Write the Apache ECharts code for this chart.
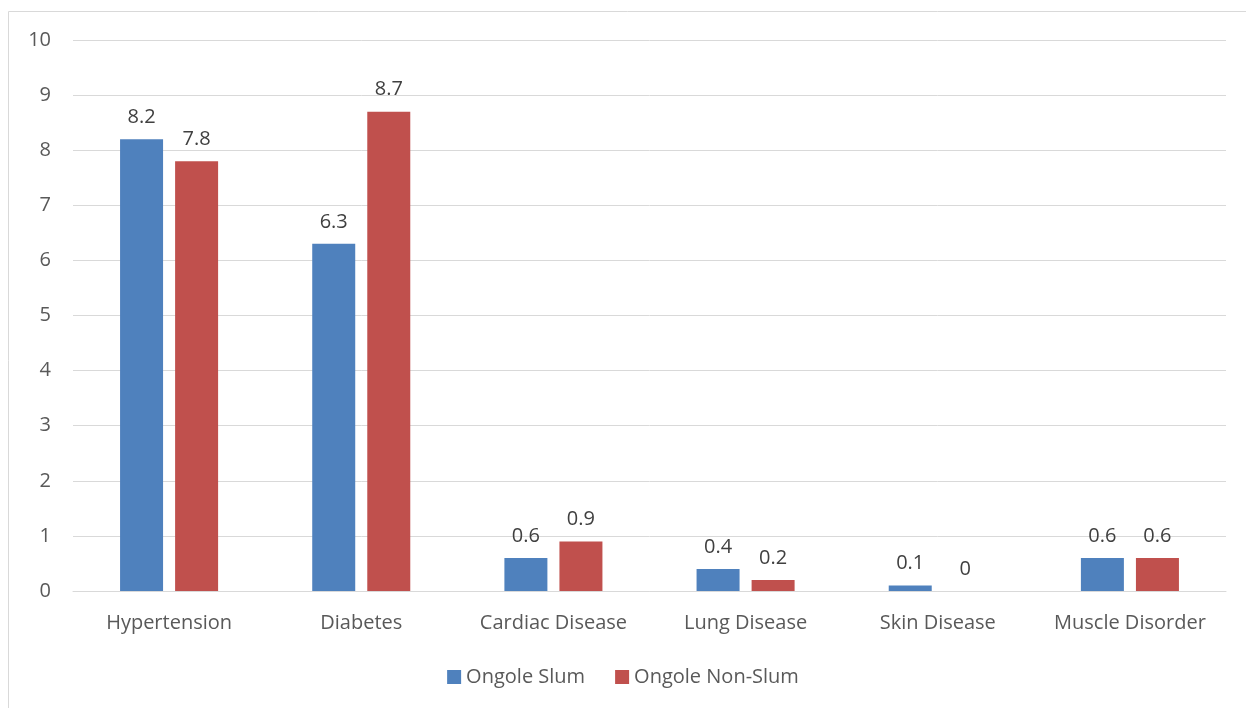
<!DOCTYPE html>
<html><head><meta charset="utf-8">
<script src="https://cdn.jsdelivr.net/npm/echarts@6/dist/echarts.min.js"></script>
<style>html,body{margin:0;padding:0;background:#fff}#c{width:1246px;height:708px}</style>
</head><body><div id="c"></div>
<script>
const categories = ['Hypertension','Diabetes','Cardiac Disease','Lung Disease','Skin Disease','Muscle Disorder'];
const slum = [8.2, 6.3, 0.6, 0.4, 0.1, 0.6];
const nonSlum = [7.8, 8.7, 0.9, 0.2, 0, 0.6];
const seriesNames = ['Ongole Slum','Ongole Non-Slum'];
const FONT = '"Open Sans", "Liberation Sans", sans-serif';
const FS = 20;
const chart = echarts.init(document.getElementById('c'), null, {renderer:'canvas'});
const lbl = {show:true, position:'top', distance:12, color:'#404040', fontSize:FS, fontFamily:FONT};
chart.setOption({
  animation:false,
  graphic:[{type:'rect', shape:{x:8.5,y:11.5,width:1260,height:720}, style:{fill:'none', stroke:'#d9d9d9', lineWidth:1}, silent:true}],
  grid:{left:73, right:20, top:40, bottom:117, containLabel:false},
  legend:{bottom:16, left:'center', itemWidth:14, itemHeight:14, itemGap:30, icon:'rect',
    textStyle:{color:'#595959', fontSize:FS, fontFamily:FONT}, data:seriesNames},
  xAxis:{type:'category', data:categories, axisTick:{show:false},
    axisLine:{lineStyle:{color:'#d9d9d9', width:1}},
    axisLabel:{color:'#595959', fontSize:FS, fontFamily:FONT, margin:22, interval:0, hideOverlap:false}},
  yAxis:{type:'value', min:0, max:10, interval:1,
    axisLabel:{color:'#595959', fontSize:FS, fontFamily:FONT, margin:22},
    splitLine:{lineStyle:{color:'#d9d9d9', width:1}}},
  series:[
    {name:seriesNames[0], type:'bar', data:slum, barWidth:43, barGap:'28%', itemStyle:{color:'#4F81BD'}, label:lbl},
    {name:seriesNames[1], type:'bar', data:nonSlum, barWidth:43, itemStyle:{color:'#C0504D'}, label:lbl}
  ]
});
</script></body></html>
